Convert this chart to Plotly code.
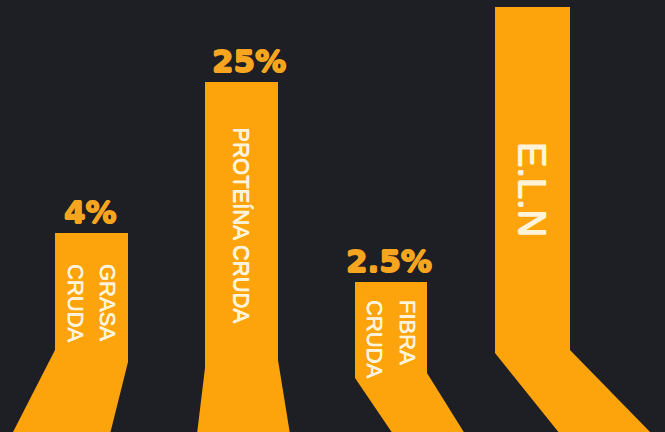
import plotly.graph_objects as go

# ---------------- data ----------------
categories = ["GRASA CRUDA", "PROTEÍNA CRUDA", "FIBRA CRUDA", "E.L.N"]
label_lines = [["GRASA", "CRUDA"], ["PROTEÍNA CRUDA"], ["FIBRA", "CRUDA"], ["E.L.N"]]
value_labels = ["4%", "25%", "2.5%", ""]
bar_heights = [199, 350, 150, 425]          # displayed bar tops (chart units)

# ---------------- style / layout ----------------
W, H = 665, 432
BG = "#1d1f24"
ORANGE = "#fda30c"
LABEL_ORANGE = "#f6a51f"
CREAM = "#fff3da"

bar_centers = [91.5, 241.5, 391, 532.5]
bar_widths = [73, 73, 72, 75]
bend_left = [82, 64, 54, 79]                # where the left edge starts bending
bend_right = [70, 72, 59, 82]               # where the right edge starts bending
leg_shift_left = [-43, -8, 38, 65]          # horizontal shift of the leg at the bottom
leg_shift_right = [-18, 12, 38, 82]
value_xshift = [-1, 7, -2, 0]
text_offset = [29, 43, 16, 133]             # distance from bar top to text start
line_gap = [32, 0, 33, 0]
text_size = [22, 22, 22, 38]
text_weight = [0.3, 0.3, 0.3, 0.8]

fig = go.Figure()

bases = [max(l, r) for l, r in zip(bend_left, bend_right)]

# legs (bent lower part of every bar)
for i in range(len(categories)):
    left = bar_centers[i] - bar_widths[i] / 2
    right = bar_centers[i] + bar_widths[i] / 2
    xs = [left + leg_shift_left[i], left, left, right, right, right + leg_shift_right[i]]
    ys = [-2, bend_left[i], bases[i] + 2, bases[i] + 2, bend_right[i], -2]
    fig.add_trace(go.Scatter(x=xs, y=ys, fill="toself", fillcolor=ORANGE,
                             mode="lines", line=dict(width=0, color=ORANGE),
                             hoverinfo="skip", showlegend=False))

# vertical bars
fig.add_trace(go.Bar(
    x=bar_centers,
    y=[h - b for h, b in zip(bar_heights, bases)],
    base=bases,
    width=bar_widths,
    marker=dict(color=ORANGE, line=dict(width=0)),
    hovertext=categories, hoverinfo="text",
    showlegend=False,
))

heavy = ", ".join(f"{dx}px {dy}px 0 {LABEL_ORANGE}" for dx, dy in
                  [(0.8, 0), (-0.8, 0), (0, 0.6), (0, -0.6)])

annotations = []
for i in range(len(categories)):
    if value_labels[i]:
        annotations.append(dict(
            x=bar_centers[i], y=bar_heights[i], xref="x", yref="y",
            text="<b>" + value_labels[i] + "</b>", showarrow=False,
            xanchor="center", yanchor="bottom", xshift=value_xshift[i], yshift=1,
            font=dict(family="DejaVu Sans", size=31, color=LABEL_ORANGE, shadow=heavy),
        ))
    lines = label_lines[i]
    n = len(lines)
    w = text_weight[i]
    light = f"{w}px 0 0 {CREAM}, -{w}px 0 0 {CREAM}, 0 {w}px 0 {CREAM}"
    for j, line in enumerate(lines):
        # first line is on the right after a clockwise rotation
        dx = (n - 1) / 2 * line_gap[i] - j * line_gap[i]
        annotations.append(dict(
            x=bar_centers[i], y=bar_heights[i] - text_offset[i], xref="x", yref="y",
            text=line, showarrow=False, textangle=90,
            xanchor="center", yanchor="top", xshift=dx,
            font=dict(family="Liberation Sans", size=text_size[i], color=CREAM, shadow=light),
        ))

fig.update_layout(
    width=W, height=H,
    margin=dict(l=0, r=0, t=0, b=0),
    paper_bgcolor=BG, plot_bgcolor=BG,
    xaxis=dict(range=[0, W], visible=False, fixedrange=True),
    yaxis=dict(range=[0, H], visible=False, fixedrange=True),
    annotations=annotations,
    bargap=0,
)

fig.write_html(
    "out.html",
    config={"displayModeBar": False},
    post_script="document.body.style.margin='0';document.body.style.background='%s';"
                "document.documentElement.style.background='%s';" % (BG, BG),
)
